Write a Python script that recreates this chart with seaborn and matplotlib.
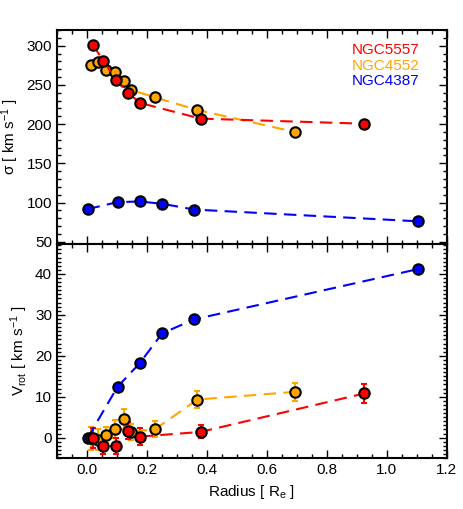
import numpy as np
import matplotlib
matplotlib.use("Agg")
import matplotlib.pyplot as plt
from matplotlib.ticker import MultipleLocator
import seaborn as sns

# NGC5557
r_5557 = [0.019, 0.055, 0.097, 0.137, 0.177, 0.379, 0.925]
sig_5557 = [301, 281, 256, 240, 227, 207, 200.5]
vrot_5557 = [-0.1, -2.1, -2.0, 1.7, 0.25, 1.4, 10.8]
verr_5557 = [2.4, 2.0, 2.0, 2.0, 2.0, 1.6, 2.3]

# NGC4552
r_4552 = [0.013, 0.037, 0.065, 0.094, 0.122, 0.148, 0.228, 0.368, 0.694]
sig_4552 = [275, 279, 269, 266, 255, 243.5, 234, 218, 190]
vrot_4552 = [-0.1, -0.5, 0.6, 2.2, 4.6, 1.4, 2.1, 9.3, 11.2]
verr_4552 = [2.8, 2.5, 2.0, 2.2, 2.4, 2.0, 2.0, 2.0, 2.2]

# NGC4387
r_4387 = [0.002, 0.102, 0.176, 0.251, 0.358, 1.105]
sig_4387 = [91.6, 100.5, 101.3, 98.4, 91, 76]
vrot_4387 = [-0.1, 12.4, 18.2, 25.5, 28.9, 41.2]
verr_4387 = [0.5, 0.5, 0.5, 0.5, 0.5, 0.5]

galaxies = ["NGC4387", "NGC4552", "NGC5557"]
colors = {"NGC5557": "#ff0000", "NGC4552": "#ffa500", "NGC4387": "#0000ff"}
data = {
    "NGC5557": (r_5557, sig_5557, vrot_5557, verr_5557),
    "NGC4552": (r_4552, sig_4552, vrot_4552, verr_4552),
    "NGC4387": (r_4387, sig_4387, vrot_4387, verr_4387),
}

sns.set_style("ticks")
plt.rcParams['font.family'] = ['Liberation Sans', 'DejaVu Sans']
plt.rcParams['mathtext.fontset'] = 'custom'
plt.rcParams['mathtext.rm'] = 'Liberation Sans'
plt.rcParams['mathtext.it'] = 'Liberation Sans'
for key in ['text.color', 'axes.labelcolor', 'xtick.color', 'ytick.color']:
    plt.rcParams[key] = 'black'

fig, (ax1, ax2) = plt.subplots(2, 1, figsize=(4.63, 5.09), dpi=100, sharex=True)
fig.subplots_adjust(left=0.123, right=0.965, top=0.941, bottom=0.100, hspace=0)

dash = (0, (6, 3.5))
for name in galaxies:
    r, sig, vrot, verr = data[name]
    c = colors[name]
    sns.lineplot(x=r, y=sig, ax=ax1, color=c, linestyle=dash, linewidth=1.5,
                 marker='o', markersize=7.5, markeredgecolor='k',
                 markeredgewidth=1.5, sort=False, zorder=3)
    ax2.errorbar(r, vrot, yerr=verr, fmt='none', ecolor=c, elinewidth=1.5,
                 capsize=2.5, capthick=1.5, zorder=2)
    sns.lineplot(x=r, y=vrot, ax=ax2, color=c, linestyle=dash, linewidth=1.5,
                 marker='o', markersize=7.5, markeredgecolor='k',
                 markeredgewidth=1.5, sort=False, zorder=3)

for i, name in enumerate(["NGC5557", "NGC4552", "NGC4387"]):
    ax1.text(0.93, 0.905 - i * 0.072, name, color=colors[name], fontsize=11,
             ha='right', va='center', transform=ax1.transAxes)

ax1.set_xlim(-0.1, 1.2)
ax1.set_ylim(47, 320)
ax2.set_ylim(-5, 47.3)

ax1.yaxis.set_major_locator(MultipleLocator(50))
ax1.yaxis.set_minor_locator(MultipleLocator(10))
ax2.yaxis.set_major_locator(MultipleLocator(10))
ax2.yaxis.set_minor_locator(MultipleLocator(1))
ax2.xaxis.set_major_locator(MultipleLocator(0.2))
ax2.xaxis.set_minor_locator(MultipleLocator(0.05))

for ax in (ax1, ax2):
    ax.tick_params(which='both', direction='in', top=True, right=True,
                   width=1.0, labelsize=11)
    ax.tick_params(which='major', length=6)
    ax.tick_params(which='minor', length=3)
    for s in ax.spines.values():
        s.set_linewidth(1.5)
        s.set_color('k')

ax1.tick_params(labelbottom=False)
ax2.xaxis.set_major_formatter(plt.FuncFormatter(lambda v, p: f"{v:.1f}"))

ax1.set_ylabel(r"σ [ km s$^{-1}$ ]", fontsize=11)
ax2.set_ylabel(r"V$_{\rm rot}$ [ km s$^{-1}$ ]", fontsize=11)
ax2.set_xlabel(r"Radius [ R$_{\rm e}$ ]", fontsize=11)

fig.savefig("out.png", dpi=100)
